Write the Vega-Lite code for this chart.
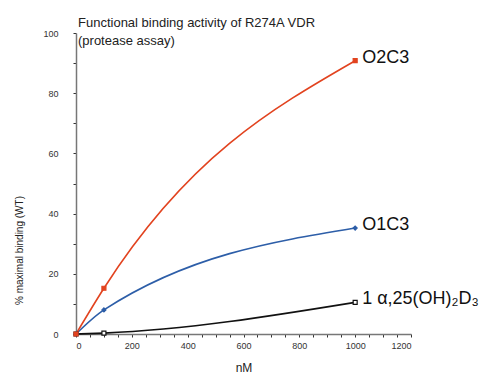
{
  "$schema": "https://vega.github.io/schema/vega-lite/v6.json",
  "width": 335,
  "height": 301,
  "autosize": "none",
  "padding": {"left": 76, "top": 33, "right": 71, "bottom": 41},
  "background": "white",
  "config": {"font": "Liberation Sans", "view": {"stroke": null}},
  "title": {
    "text": ["Functional binding activity of R274A VDR", "\u2002(protease assay)"],
    "anchor": "start",
    "frame": "group",
    "fontSize": 13,
    "fontWeight": "normal",
    "color": "#222",
    "lineHeight": 18,
    "offset": -16,
    "dx": 2,
    "dy": 3
  },
  "data": {
    "values": [
      {"series": "1 α,25(OH)₂D₃", "nM": 0, "pct": 0},
      {"series": "1 α,25(OH)₂D₃", "nM": 100, "pct": 0.3},
      {"series": "1 α,25(OH)₂D₃", "nM": 1000, "pct": 10.5},
      {"series": "O1C3", "nM": 0, "pct": 0},
      {"series": "O1C3", "nM": 100, "pct": 8},
      {"series": "O1C3", "nM": 1000, "pct": 35.2},
      {"series": "O2C3", "nM": 0, "pct": 0},
      {"series": "O2C3", "nM": 100, "pct": 15.2},
      {"series": "O2C3", "nM": 1000, "pct": 90.8}
    ]
  },
  "encoding": {
    "x": {
      "field": "nM",
      "type": "quantitative",
      "scale": {"domain": [0, 1200], "nice": false},
      "axis": {
        "values": [0, 50, 100, 150, 200, 250, 300, 350, 400, 450, 500, 550, 600, 650, 700, 750, 800, 850, 900, 950, 1000, 1050, 1100, 1150, 1200],
        "format": "d",
        "labelExpr": "datum.value % 200 == 0 ? datum.label : ''",
        "grid": false,
        "tickSize": 3,
        "domainColor": "#777",
        "domainWidth": 1.5,
        "tickColor": "#333",
        "labelFontSize": 9,
        "labelColor": "#333",
        "labelPadding": 4,
        "title": "nM",
        "titleFontSize": 12,
        "titleFontWeight": "normal",
        "titleColor": "#222",
        "titlePadding": 12
      }
    },
    "y": {
      "field": "pct",
      "type": "quantitative",
      "scale": {"domain": [0, 100], "nice": false},
      "axis": {
        "values": [0, 10, 20, 30, 40, 50, 60, 70, 80, 90, 100],
        "format": "d",
        "labelExpr": "datum.value % 20 == 0 ? datum.label : ''",
        "grid": false,
        "tickSize": 3,
        "domainColor": "#777",
        "domainWidth": 1.5,
        "tickColor": "#333",
        "labelFontSize": 9,
        "labelColor": "#333",
        "labelPadding": 15,
        "title": "% maximal binding (WT)",
        "titleFontSize": 10,
        "titleFontWeight": "normal",
        "titleColor": "#222",
        "titleX": -52,
        "titleY": 217
      }
    },
    "color": {
      "field": "series",
      "type": "nominal",
      "scale": {"domain": ["1 α,25(OH)₂D₃", "O1C3", "O2C3"], "range": ["#111111", "#2d5ea8", "#e2431f"]},
      "legend": null
    }
  },
  "layer": [
    {
      "mark": {"type": "line", "interpolate": "monotone", "strokeWidth": 1.6},
      "encoding": {"order": {"field": "nM", "type": "quantitative"}}
    },
    {
      "mark": {"type": "point", "filled": false, "size": 16, "strokeWidth": 1.2, "opacity": 1},
      "encoding": {
        "shape": {"field": "series", "type": "nominal", "scale": {"domain": ["1 α,25(OH)₂D₃", "O1C3", "O2C3"], "range": ["square", "diamond", "square"]}, "legend": null},
        "fill": {"field": "series", "type": "nominal", "scale": {"domain": ["1 α,25(OH)₂D₃", "O1C3", "O2C3"], "range": ["#ffffff", "#2d5ea8", "#e2431f"]}, "legend": null},
        "stroke": {"field": "series", "type": "nominal", "scale": {"domain": ["1 α,25(OH)₂D₃", "O1C3", "O2C3"], "range": ["#111111", "#2d5ea8", "#e2431f"]}, "legend": null}
      }
    },
    {
      "transform": [{"filter": "datum.nM == 1000"}],
      "mark": {"type": "text", "align": "left", "baseline": "middle", "dx": 7, "dy": -3, "fontSize": 18, "color": "#111"},
      "encoding": {"text": {"field": "series"}, "color": {"value": "#111"}}
    }
  ]
}
